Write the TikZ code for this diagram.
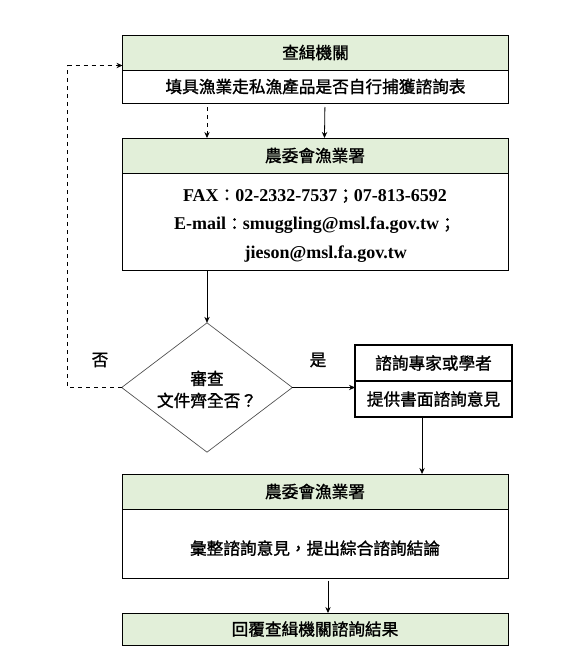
\documentclass[tikz,border=0pt]{standalone}
\usepackage{fontspec}
\setmainfont{Noto Sans CJK TC}[BoldFont={Noto Sans CJK TC}, BoldFeatures={FakeBold=1.3}]
\newfontfamily\latinserif{Liberation Serif}[Scale=1.08]
\usetikzlibrary{shapes.geometric,arrows.meta}

\begin{document}
\begin{tikzpicture}[x={(0.75pt,0pt)}, y={(0pt,-0.75pt)},
    %Option for small arrows
    >={Stealth[length=4.5pt,width=4pt]}, %
    inner sep=0pt, outer sep=0pt,%
    every node/.style={font=\fontsize{12.5pt}{15pt}\selectfont\bfseries},
    headbox/.style={draw, line width=0.75pt, fill=headgreen, minimum width=289.5pt, minimum height=26.25pt},
    bodybox/.style={draw, line width=0.75pt, fill=white, minimum width=289.5pt, minimum height=#1, anchor=north, align=center},
    sidebox/.style={draw, line width=1.5pt, fill=white, minimum width=117.75pt, minimum height=27pt},
    decision/.style={draw=black!70, line width=0.5pt, diamond, minimum width=128pt, minimum height=97pt},
    flow/.style={line width=0.6pt,->},
    flow_dashed/.style={line width=0.6pt,->,dashed},
]
    % Colors
    \definecolor{headgreen}{HTML}{E2EFD9}

    % Frame
    \useasboundingbox (0,0) rectangle (575,653);

    % Inspection agency
    \node[headbox] (agency) at (315.5,52.5) {查緝機關};
    \node[bodybox=24.75pt] (form) at (agency.south) {填具漁業走私漁產品是否自行捕獲諮詢表};

    % Fisheries agency, contact data
    \node[headbox] (fishery) at (315,155.5) {農委會漁業署};
    \node[bodybox=72.75pt] (contacts) at (fishery.south) {};
    \node[align=center] (contacttext) at ([yshift=-3.25pt]contacts.center)
        {{\latinserif FAX}：{\latinserif 02-2332-7537}；{\latinserif 07-813-6592}\\[6.6pt]
         {\latinserif E-mail}：{\latinserif smuggling@msl.fa.gov.tw}；\\[6.6pt]
         \hspace*{16pt}{\latinserif jieson@msl.fa.gov.tw}};

    % Check of the documents
    \node[decision] (check) at (207,387.5) {};
    \node[align=center] (checktext) at ([yshift=-1.5pt]check.center) {審查\\[1.5pt]文件齊全否？};
    \node (no)  at (100,360) {否};
    \node (yes) at (318,360) {是};

    % Experts
    \node[sidebox] (expert) at (433.5,363) {諮詢專家或學者};
    \node[sidebox, anchor=north] (advice) at (expert.south) {提供書面諮詢意見};

    % Fisheries agency, conclusion
    \node[headbox] (fishery2) at (315,491.5) {農委會漁業署};
    \node[bodybox=51.75pt] (summary) at (fishery2.south) {};
    \node (summarytext) at ([yshift=-3.5pt]summary.center) {彙整諮詢意見，提出綜合諮詢結論};

    % Reply
    \node[headbox, minimum height=24pt] (reply) at (315,629) {回覆查緝機關諮詢結果};

    % Connectors
    \draw[flow_dashed, shorten <=3pt] (form.south -| check) -- (fishery.north -| check);
    \draw[flow, shorten <=3pt] ([xshift=7.1pt]form.south) -- ([xshift=7.1pt]fishery.north);
    \draw[flow] (contacts.south -| check) -- (check.north);
    \draw[flow] (check.east) -- (check.east -| advice.west);
    \draw[flow_dashed] (check.west) -- ++(-54,0) |- ([yshift=-9.75pt]agency.west);
    \draw[flow] ([xshift=-8.6pt]advice.south) -- ([xshift=-8.6pt]advice.south |- fishery2.north);
    \draw[flow, shorten <=2pt] ([xshift=9.75pt]summary.south) -- ([xshift=9.75pt]reply.north);
\end{tikzpicture}
\end{document}
